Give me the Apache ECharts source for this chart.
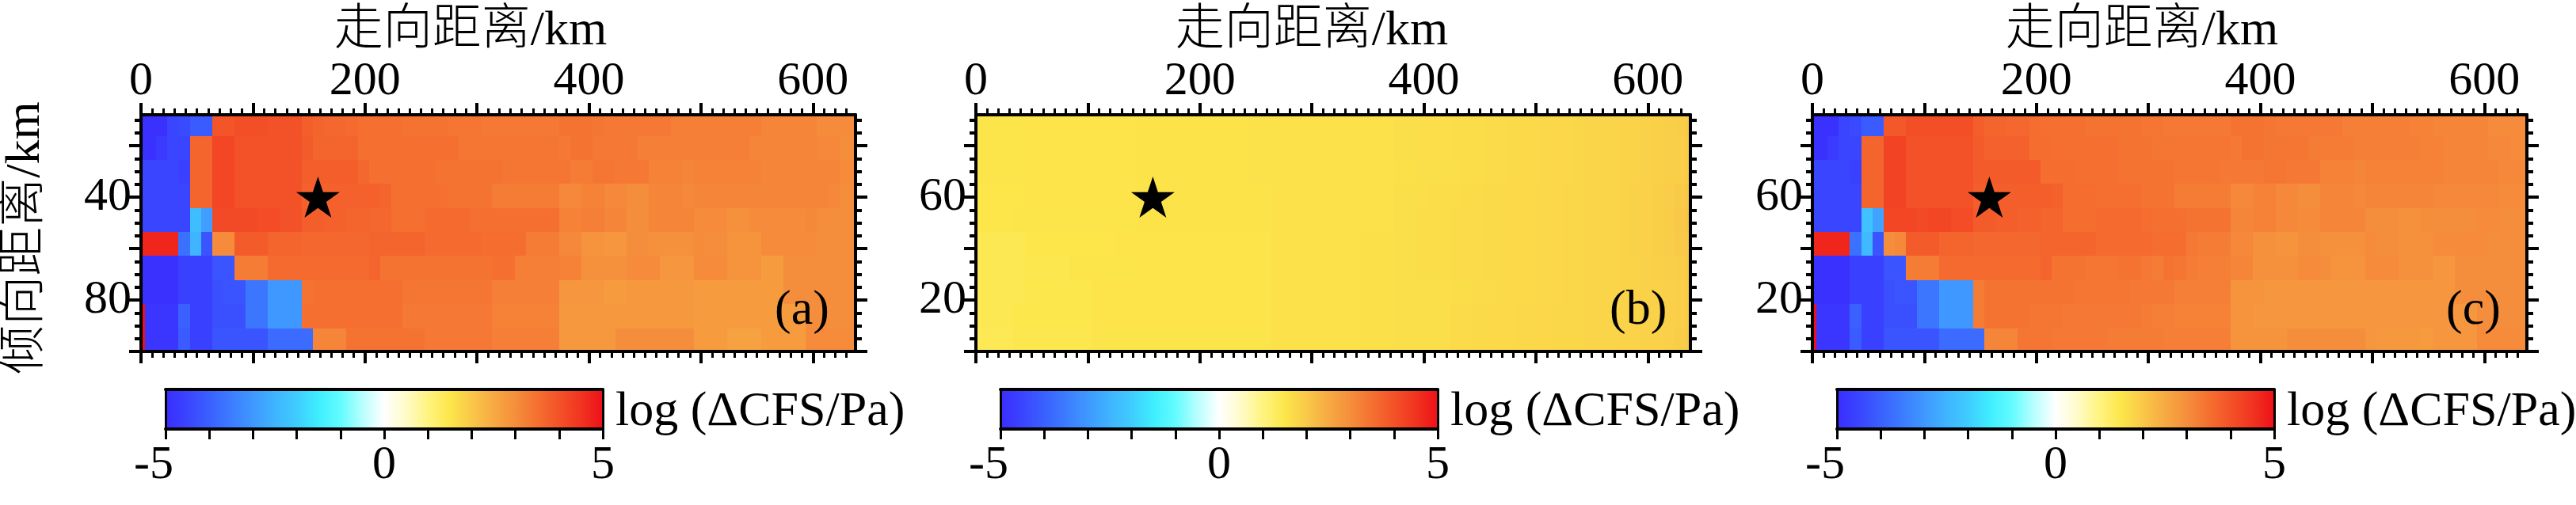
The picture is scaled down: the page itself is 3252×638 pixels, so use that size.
<!DOCTYPE html>
<html>
<head>
<meta charset="utf-8">
<style>
  html, body { margin: 0; padding: 0; background: #fff; }
  #chart { width: 3252px; height: 638px; }
</style>
<script src="https://cdn.jsdelivr.net/npm/echarts@6/dist/echarts.min.js"></script>
</head>
<body>
<div id="chart"></div>
<script>
// cell edges in km
const xEdges = [0, 3.5, 13.5, 23.5, 33.5, 43.5, 53.5, 63.5, 73.5, 83.5, 93.5, 103.5, 113.5, 123.5, 133.5, 143.5, 153.5, 163.5, 173.5, 183.5, 193.5, 203.5, 213.5, 223.5, 233.5, 243.5, 253.5, 263.5, 273.5, 283.5, 293.5, 303.5, 313.5, 323.5, 333.5, 343.5, 353.5, 363.5, 373.5, 383.5, 393.5, 403.5, 413.5, 423.5, 433.5, 443.5, 453.5, 463.5, 473.5, 483.5, 493.5, 503.5, 513.5, 523.5, 533.5, 543.5, 553.5, 563.5, 573.5, 583.5, 593.5, 603.5, 613.5, 623.5, 633.5, 638];
const yEdgesDepth = [8, 16.3, 25.5, 34.8, 44.3, 53.5, 62.8, 72.3, 81.5, 91, 100];
const yEdgesHeight = [92, 83.7, 74.5, 65.2, 55.7, 46.5, 37.2, 27.7, 18.5, 9, 0];

// log(dCFS/Pa), one row per down-dip cell, top row first
const cfsA = [
  [-4.9,-4.9,-4.9,-4.5,-4.4,-4.1,-4.1,3.95,3.95,4.05,4.05,4.05,4,4,4,3.8,3.7,3.65,3.65,3.6,3.5,3.5,3.5,3.5,3.45,3.45,3.45,3.45,3.4,3.4,3.4,3.35,3.35,3.35,3.35,3.35,3.35,3.35,3.45,3.45,3.45,3.4,3.35,3.35,3.35,3.35,3.35,3.35,3.25,3.25,3.25,3.25,3.25,3.25,3.25,3.25,3.15,3.15,3.15,3.15,3.15,3.05,3.05,3.05,3.05],
  [-4.9,-4.9,-4.7,-4.5,-4.5,3.7,3.7,4.2,4.2,4,4,4,4,4,4,3.85,3.7,3.7,3.7,3.7,3.5,3.5,3.5,3.5,3.5,3.5,3.5,3.5,3.5,3.4,3.4,3.4,3.4,3.4,3.4,3.4,3.4,3.4,3.35,3.45,3.45,3.35,3.35,3.35,3.35,3.25,3.25,3.25,3.25,3.25,3.25,3.25,3.25,3.25,3.25,3.15,3.15,3.15,3.15,3.15,3.15,3.1,3.1,3,3],
  [-4.5,-4.5,-4.5,-4.5,-4.6,3.7,3.7,4.2,4.2,4,4,4,4,4,4,3.8,3.8,3.8,3.8,3.8,3.65,3.5,3.5,3.5,3.5,3.5,3.5,3.45,3.45,3.45,3.45,3.45,3.45,3.4,3.4,3.4,3.4,3.4,3.4,3.3,3.3,3.4,3.4,3.35,3.35,3.35,3.2,3.2,3.2,3.15,3.2,3.2,3.2,3.2,3.2,3.2,3.15,3.15,3.15,3.15,3.15,3.15,3.15,3.05,3.05],
  [-4.5,-4.5,-4.5,-4.5,-4.5,3.7,3.7,4.2,4.2,4,4,4,4,4,4,3.75,3.75,3.75,3.75,3.75,3.75,3.75,3.7,3.5,3.5,3.5,3.5,3.5,3.45,3.45,3.45,3.45,3.3,3.3,3.3,3.3,3.3,3.3,3.1,3.1,3.2,3.2,3.1,3.1,3,3,3.15,3.15,3.15,3.1,3.15,3.15,3.15,3.15,3.15,3.15,3.15,3.15,3.15,3.15,3.15,3.15,3.1,3,3],
  [-4.5,-4.5,-4.5,-4.5,-4.5,-2.3,-2.9,4.15,4.15,4.15,4.15,4.1,4.1,4,4,3.8,3.8,3.75,3.75,3.7,3.7,3.65,3.65,3.5,3.5,3.5,3.6,3.6,3.6,3.6,3.5,3.5,3.5,3.5,3.5,3.5,3.5,3.5,3.2,3.2,3.25,3.25,3.15,3.15,3,3,3.15,3.15,3.15,3.15,3.05,3.05,3.05,2.95,2.95,3.05,3.05,3.05,3.05,3.05,3.1,3,3,3,3],
  [4.7,4.7,4.7,4.7,-3.7,-2.5,-4.2,3.05,3.05,3.85,3.85,3.85,3.7,3.7,3.7,3.65,3.65,3.65,3.65,3.65,3.65,3.7,3.7,3.7,3.7,3.7,3.6,3.6,3.6,3.6,3.6,3.55,3.55,3.55,3.55,3.3,3.3,3.3,3.1,3.1,2.9,2.9,2.85,2.85,3,3,2.95,2.95,2.95,2.95,3.05,3,3,2.9,2.9,2.9,3.05,3.05,3.05,3.05,3.05,3,3,3,3],
  [-4.9,-4.9,-4.9,-4.9,-4.6,-4.6,-4.6,-4.2,-4.2,3.3,3.3,3.3,3.6,3.6,3.6,3.6,3.6,3.6,3.6,3.6,3.6,3.7,3.45,3.45,3.45,3.45,3.45,3.45,3.45,3.45,3.45,3.45,3.5,3.5,3.25,3.25,3.25,3.25,3.2,3.2,2.95,2.95,2.95,2.95,3.05,3.05,3.05,2.85,2.85,2.85,3.05,3.05,3.05,2.9,2.9,2.9,2.75,2.75,3,3,3,3,3,3,3],
  [-4.9,-4.9,-4.9,-4.9,-4.6,-4.6,-4.6,-4.3,-4.2,-4.2,-3.6,-3.6,-3,-3,-3,3.45,3.5,3.5,3.5,3.5,3.5,3.5,3.5,3.5,3.4,3.4,3.4,3.4,3.4,3.4,3.4,3.4,3.25,3.25,3.25,3.25,3.25,3.25,2.85,2.85,2.85,2.85,2.75,2.75,2.8,2.8,2.8,2.8,2.8,2.8,2.75,2.75,2.75,2.75,2.75,2.75,2.75,2.75,3,3,3,3,3,3,3],
  [5,-4.8,-4.8,-4.8,-4,-4.6,-4.6,-4.3,-4.3,-4.3,-3.6,-3.6,-3,-3,-3,3.5,3.5,3.5,3.5,3.5,3.5,3.5,3.5,3.5,3.35,3.35,3.35,3.35,3.35,3.35,3.35,3.35,3.2,3.2,3.2,3.2,3.2,3.2,2.8,2.8,2.8,2.8,2.8,2.8,2.8,2.8,2.8,2.8,2.8,2.8,2.75,2.75,2.75,2.75,2.75,2.75,2.75,2.75,2.75,2.75,3,3,3,3,3],
  [5,-4.8,-4.8,-4.8,-4.1,-4.6,-4.6,-4.2,-4.2,-4.2,-4.2,-4.2,-3.8,-3.8,-3.8,-3.8,3.15,3.15,3.15,3.45,3.45,3.45,3.45,3.45,3.45,3.45,3.35,3.35,3.35,3.35,3.35,3.35,3.25,3.25,3.25,3.25,3.25,3.25,2.8,2.8,2.8,2.8,2.8,3,3,3,3,3,3,3,2.75,2.75,2.75,2.65,2.65,2.65,2.75,2.75,2.75,2.75,3.05,3.05,3.05,3.05,3.05]
];
const cfsB = [
  [1.52,1.52,1.52,1.52,1.52,1.54,1.54,1.54,1.54,1.54,1.54,1.54,1.54,1.54,1.54,1.55,1.55,1.55,1.55,1.55,1.55,1.55,1.55,1.55,1.55,1.57,1.57,1.58,1.58,1.58,1.58,1.58,1.58,1.58,1.58,1.58,1.58,1.58,1.62,1.62,1.63,1.64,1.64,1.65,1.66,1.67,1.68,1.69,1.7,1.71,1.72,1.73,1.74,1.75,1.76,1.78,1.79,1.8,1.81,1.82,1.84,1.86,1.88,1.92,1.98],
  [1.52,1.52,1.52,1.52,1.52,1.54,1.54,1.54,1.54,1.54,1.54,1.54,1.54,1.54,1.54,1.55,1.55,1.55,1.55,1.55,1.55,1.55,1.55,1.55,1.55,1.57,1.57,1.58,1.58,1.58,1.58,1.58,1.58,1.58,1.58,1.58,1.58,1.58,1.62,1.62,1.63,1.64,1.64,1.65,1.66,1.67,1.68,1.69,1.7,1.71,1.72,1.73,1.74,1.75,1.76,1.78,1.79,1.8,1.81,1.82,1.84,1.86,1.88,1.9,1.94],
  [1.52,1.52,1.52,1.52,1.52,1.54,1.54,1.54,1.54,1.54,1.54,1.54,1.54,1.54,1.54,1.55,1.55,1.55,1.55,1.55,1.55,1.55,1.55,1.55,1.55,1.57,1.57,1.58,1.58,1.58,1.58,1.58,1.58,1.58,1.58,1.58,1.58,1.58,1.6,1.6,1.61,1.62,1.62,1.64,1.66,1.67,1.68,1.69,1.7,1.71,1.72,1.73,1.74,1.75,1.76,1.78,1.79,1.8,1.81,1.82,1.84,1.86,1.88,1.9,1.94],
  [1.5,1.5,1.5,1.5,1.5,1.53,1.53,1.53,1.53,1.53,1.53,1.53,1.53,1.53,1.53,1.55,1.55,1.55,1.55,1.55,1.55,1.55,1.55,1.55,1.55,1.55,1.55,1.58,1.58,1.58,1.58,1.58,1.58,1.58,1.58,1.58,1.58,1.58,1.62,1.62,1.63,1.66,1.66,1.67,1.68,1.69,1.7,1.7,1.71,1.72,1.73,1.74,1.75,1.76,1.77,1.78,1.79,1.8,1.82,1.83,1.85,1.88,1.92,1.98,2.02],
  [1.5,1.5,1.5,1.5,1.52,1.52,1.52,1.52,1.52,1.52,1.52,1.52,1.52,1.52,1.52,1.55,1.55,1.55,1.55,1.55,1.55,1.55,1.55,1.55,1.55,1.55,1.55,1.58,1.58,1.58,1.58,1.58,1.58,1.58,1.58,1.58,1.58,1.58,1.62,1.62,1.66,1.66,1.67,1.68,1.68,1.69,1.7,1.7,1.71,1.72,1.73,1.74,1.75,1.76,1.77,1.78,1.79,1.8,1.82,1.83,1.85,1.88,1.92,2,2.05],
  [1.42,1.42,1.42,1.42,1.42,1.5,1.5,1.5,1.5,1.5,1.5,1.5,1.5,1.54,1.54,1.54,1.54,1.54,1.54,1.54,1.54,1.54,1.54,1.54,1.54,1.54,1.54,1.58,1.58,1.58,1.58,1.58,1.58,1.58,1.58,1.6,1.6,1.6,1.62,1.62,1.66,1.67,1.67,1.68,1.68,1.69,1.7,1.7,1.71,1.72,1.73,1.74,1.75,1.76,1.77,1.78,1.79,1.8,1.82,1.83,1.85,1.88,1.92,1.96,2],
  [1.42,1.42,1.42,1.42,1.42,1.46,1.46,1.46,1.46,1.52,1.52,1.52,1.52,1.52,1.52,1.54,1.54,1.54,1.54,1.54,1.54,1.54,1.54,1.54,1.54,1.54,1.54,1.58,1.58,1.58,1.58,1.58,1.58,1.58,1.58,1.6,1.6,1.6,1.62,1.62,1.66,1.67,1.67,1.68,1.68,1.69,1.7,1.7,1.71,1.72,1.73,1.74,1.75,1.76,1.77,1.78,1.79,1.8,1.81,1.82,1.84,1.86,1.88,1.92,1.96],
  [1.42,1.42,1.42,1.42,1.42,1.48,1.48,1.48,1.48,1.48,1.48,1.53,1.53,1.53,1.53,1.53,1.53,1.53,1.53,1.53,1.53,1.53,1.53,1.53,1.53,1.53,1.53,1.58,1.58,1.58,1.58,1.58,1.58,1.58,1.58,1.6,1.6,1.6,1.62,1.62,1.62,1.62,1.64,1.66,1.67,1.68,1.69,1.7,1.71,1.72,1.73,1.74,1.75,1.76,1.77,1.78,1.79,1.8,1.81,1.82,1.83,1.85,1.87,1.9,1.93],
  [1.42,1.42,1.42,1.42,1.47,1.47,1.47,1.47,1.47,1.47,1.47,1.53,1.53,1.53,1.53,1.53,1.53,1.53,1.53,1.53,1.53,1.53,1.53,1.53,1.53,1.53,1.53,1.58,1.58,1.58,1.58,1.58,1.58,1.58,1.58,1.6,1.6,1.6,1.62,1.62,1.62,1.62,1.62,1.68,1.69,1.7,1.7,1.71,1.72,1.73,1.74,1.75,1.76,1.77,1.77,1.78,1.79,1.8,1.81,1.82,1.83,1.85,1.87,1.9,1.93],
  [1.4,1.4,1.4,1.4,1.45,1.45,1.45,1.45,1.45,1.45,1.45,1.52,1.52,1.52,1.52,1.52,1.52,1.52,1.52,1.52,1.52,1.52,1.52,1.52,1.52,1.52,1.52,1.58,1.58,1.58,1.58,1.58,1.58,1.58,1.58,1.6,1.6,1.6,1.62,1.62,1.62,1.62,1.62,1.68,1.69,1.7,1.7,1.71,1.72,1.73,1.74,1.75,1.76,1.77,1.77,1.78,1.79,1.8,1.81,1.82,1.83,1.85,1.87,1.92,1.96]
];
const cfsC = [
  [-4.9,-4.9,-4.9,-4.5,-4.4,-4.1,-4.1,3.9,3.9,4.05,4.05,4.05,4.05,4.05,4.05,3.8,3.7,3.7,3.65,3.65,3.55,3.5,3.5,3.5,3.5,3.45,3.45,3.45,3.45,3.45,3.4,3.4,3.35,3.35,3.35,3.35,3.35,3.35,3.45,3.45,3.45,3.4,3.35,3.35,3.35,3.35,3.35,3.35,3.25,3.25,3.25,3.25,3.25,3.25,3.2,3.2,3.15,3.15,3.15,3.15,3.15,3.05,3.05,3.05,3.05],
  [-4.9,-4.9,-4.7,-4.5,-4.5,3.7,3.7,4.25,4.25,4,4,4,4,4,4,3.85,3.75,3.75,3.75,3.75,3.55,3.55,3.5,3.5,3.5,3.5,3.5,3.5,3.45,3.45,3.45,3.4,3.4,3.4,3.4,3.4,3.4,3.4,3.35,3.45,3.45,3.4,3.4,3.4,3.4,3.3,3.3,3.3,3.3,3.25,3.25,3.25,3.25,3.25,3.25,3.2,3.2,3.15,3.15,3.15,3.15,3.1,3.1,3.05,3.05],
  [-4.5,-4.5,-4.5,-4.5,-4.6,3.7,3.7,4.25,4.25,4,4,4,4,4,4,3.85,3.85,3.85,3.85,3.85,3.85,3.55,3.55,3.55,3.5,3.5,3.5,3.5,3.45,3.45,3.45,3.45,3.45,3.4,3.4,3.4,3.4,3.35,3.35,3.35,3.35,3.4,3.4,3.35,3.35,3.35,3.2,3.2,3.2,3.15,3.2,3.2,3.2,3.2,3.2,3.2,3.2,3.15,3.15,3.15,3.15,3.15,3.1,3.1,3.1],
  [-4.5,-4.5,-4.5,-4.5,-4.5,3.7,3.7,4.25,4.25,4,4,4,4,4,4,3.8,3.8,3.8,3.8,3.8,3.8,3.8,3.75,3.55,3.55,3.55,3.5,3.5,3.5,3.5,3.45,3.45,3.45,3.3,3.3,3.3,3.3,3.3,3.1,3.1,3.2,3.2,3.1,3.1,3,3,3.15,3.15,3.15,3.1,3.15,3.15,3.15,3.15,3.15,3.15,3.1,3.1,3.1,3.1,3.1,3.1,3.05,3.05,3.05],
  [-4.5,-4.5,-4.5,-4.5,-4.5,-2.2,-2.8,4.2,4.2,4.2,4.15,4.2,4.2,4.1,4.1,3.85,3.85,3.8,3.8,3.75,3.75,3.7,3.7,3.55,3.55,3.55,3.6,3.6,3.6,3.6,3.55,3.5,3.5,3.5,3.45,3.45,3.45,3.45,3.15,3.15,3.2,3.2,3.1,3.1,3.05,3.05,3.15,3.15,3.15,3.15,3,3,3,2.95,2.95,3,3,3,3,3,3.05,3.05,3,3,3],
  [4.7,4.7,4.7,4.7,-3.7,-2.4,-4.2,3,3.1,3.85,3.85,3.85,3.7,3.7,3.7,3.65,3.65,3.65,3.65,3.65,3.65,3.7,3.7,3.7,3.7,3.7,3.6,3.6,3.6,3.6,3.6,3.55,3.55,3.55,3.35,3.3,3.3,3.3,3.1,3.1,2.95,2.95,2.9,2.9,3,3,2.95,2.95,2.95,2.95,3.05,3,3,2.95,2.95,2.95,3.05,3.05,3.05,3.05,3.05,3,3,3,3],
  [-4.9,-4.9,-4.9,-4.9,-4.6,-4.6,-4.6,-4.2,-4.2,3.3,3.3,3.3,3.6,3.6,3.6,3.6,3.6,3.6,3.6,3.6,3.6,3.7,3.45,3.45,3.45,3.4,3.4,3.4,3.45,3.45,3.35,3.3,3.45,3.4,3.3,3.25,3.25,3.25,3.15,3.15,2.95,2.95,2.95,2.95,3.05,3.05,3,2.9,2.9,2.9,3.05,3.05,3.05,2.95,2.95,2.95,2.85,2.85,3,3,3,3,3,3,3],
  [-4.9,-4.9,-4.9,-4.9,-4.6,-4.6,-4.6,-4.3,-4.2,-4.2,-3.6,-3.6,-3,-3,-3,3.3,3.45,3.45,3.45,3.45,3.45,3.45,3.45,3.45,3.4,3.4,3.4,3.4,3.4,3.35,3.35,3.35,3.35,3.25,3.25,3.25,3.25,3.25,2.9,2.9,2.9,2.85,2.85,2.85,2.85,2.85,2.85,2.85,2.85,2.85,2.85,2.85,2.85,2.85,2.85,2.85,2.85,2.85,3,3,3,3,3,3,3],
  [5,-4.8,-4.8,-4.8,-4,-4.6,-4.6,-4.3,-4.3,-4.3,-3.6,-3.6,-3,-3,-3,3.3,3.45,3.45,3.45,3.45,3.4,3.4,3.4,3.35,3.35,3.35,3.35,3.35,3.35,3.35,3.3,3.25,3.25,3.2,3.2,3.2,3.2,3.2,2.9,2.9,2.85,2.85,2.85,2.85,2.85,2.85,2.85,2.85,2.85,2.85,2.85,2.85,2.85,2.85,2.85,2.85,2.85,2.85,2.85,2.85,3,3,3,3,3],
  [5,-4.8,-4.8,-4.8,-4.1,-4.6,-4.6,-4.2,-4.2,-4.2,-4.2,-4.2,-3.8,-3.8,-3.8,-3.8,3.15,3.15,3.15,3.4,3.4,3.4,3.35,3.35,3.35,3.35,3.35,3.3,3.3,3.3,3.3,3.3,3.25,3.25,3.25,3.25,3.25,3.25,2.9,2.9,2.9,2.9,2.9,3,3,3,3,3,3,3,2.85,2.8,2.8,2.8,2.8,2.75,2.85,2.85,2.85,2.85,3.05,3.05,3.05,3.05,3.05]
];

const panelNames = ['(a)', '(b)', '(c)'];
const xMajorTicks = [0, 100, 200, 300, 400, 500, 600];
const xMinorTicks = [10, 20, 30, 40, 50, 60, 70, 80, 90, 110, 120, 130, 140, 150, 160, 170, 180, 190, 210, 220, 230, 240, 250, 260, 270, 280, 290, 310, 320, 330, 340, 350, 360, 370, 380, 390, 410, 420, 430, 440, 450, 460, 470, 480, 490, 510, 520, 530, 540, 550, 560, 570, 580, 590, 610, 620, 630];
const xLabels = [0, 200, 400, 600];
const yMajorDepth = [20, 40, 60, 80, 100];
const yMinorDepth = [10, 15, 25, 30, 35, 45, 50, 55, 65, 70, 75, 85, 90, 95];
const yLabelsDepth = [40, 80];
const yMajorHeight = [0, 20, 40, 60, 80];
const yMinorHeight = [5, 10, 15, 25, 30, 35, 45, 50, 55, 65, 70, 75, 85, 90];
const yLabelsHeight = [20, 60];
const barLabels = [-5, 0, 5];
const starKm = 158;
const starY = [40, 60, 60];
// colormap, -5 to 5 in steps of 0.5
const cfsColors = ['#3a2cff', '#3a45ff', '#3a60ff', '#3c7cff', '#3f98ff', '#3fb4ff', '#3fccff', '#3feeff', '#62fcff', '#b8fefe', '#ffffff', '#fffbc8', '#fff480', '#fce64a', '#f9c848', '#f7aa42', '#f58e3c', '#f57030', '#f35228', '#f13420', '#ee1018'];

const FONT = '"Liberation Serif", "Noto Sans CJK SC"';
const panelLeft = [178, 1232, 2288];
const panelWidth = 902;
const titleShift = [70, 54, 70];
const starPath = 'path://M50 0 L61.8 36 L100 36 L69 58.5 L80.9 95 L50 72.5 L19.1 95 L31 58.5 L0 36 L38.2 36 Z';

function cellsOf (values, yEdges) {
  const out = [];
  values.forEach((row, r) => {
    row.forEach((v, c) => {
      out.push([xEdges[c], xEdges[c + 1], yEdges[r], yEdges[r + 1], v]);
    });
  });
  return out;
}

function renderCell (params, api) {
  const a = api.coord([api.value(0), api.value(2)]);
  const b = api.coord([api.value(1), api.value(3)]);
  const x0 = Math.round(Math.min(a[0], b[0]));
  const x1 = Math.round(Math.max(a[0], b[0]));
  const y0 = Math.round(Math.min(a[1], b[1]));
  const y1 = Math.round(Math.max(a[1], b[1]));
  return {
    type: 'rect',
    shape: { x: x0, y: y0, width: x1 - x0, height: y1 - y0 },
    style: { fill: api.visual('color') }
  };
}

const grid = [], xAxis = [], yAxis = [], series = [], visualMap = [], graphic = [];

function tickAxis (common, ticks, len, width, labels, showLine) {
  return Object.assign({
    type: 'value',
    z: 6,
    splitLine: { show: false },
    axisLine: { show: showLine, onZero: false, lineStyle: { color: '#000', width: 4 } },
    axisTick: { show: true, customValues: ticks, length: len, lineStyle: { color: '#000', width: width } },
    axisLabel: labels
      ? { show: true, customValues: labels, color: '#000', fontFamily: FONT, fontSize: 60, margin: 12 }
      : { show: false }
  }, common);
}

[cfsA, cfsB, cfsC].forEach((values, i) => {
  const g = grid.length;
  const isA = i === 0;
  const yEdges = isA ? yEdgesDepth : yEdgesHeight;
  const yMajor = isA ? yMajorDepth : yMajorHeight;
  const yMinor = isA ? yMinorDepth : yMinorHeight;
  const yLabels = isA ? yLabelsDepth : yLabelsHeight;
  const yRange = isA ? { min: 8, max: 100, inverse: true } : { min: 0, max: 92 };

  grid.push({ left: panelLeft[i], top: 145, width: panelWidth, height: 299 });

  const xBase = { gridIndex: g, min: 0, max: 638 };
  const xTop = xAxis.length;
  xAxis.push(
    tickAxis(Object.assign({
      position: 'top',
      name: '走向距离/km',
      nameLocation: 'middle',
      nameGap: 74,
      nameTextStyle: { color: '#000', fontFamily: FONT, fontSize: 62, fontWeight: 300, padding: [0, titleShift[i], 0, 0] }
    }, xBase), xMajorTicks, 15, 4, xLabels, true),
    tickAxis(Object.assign({ position: 'top' }, xBase), xMinorTicks, 8, 3, null, false),
    tickAxis(Object.assign({ position: 'bottom' }, xBase), xMajorTicks, 15, 4, null, true),
    tickAxis(Object.assign({ position: 'bottom' }, xBase), xMinorTicks, 8, 3, null, false)
  );

  const yBase = Object.assign({ gridIndex: g }, yRange);
  const yLeft = yAxis.length;
  const leftMain = { position: 'left' };
  if (isA) {
    leftMain.name = '倾向距离/km';
    leftMain.nameLocation = 'middle';
    leftMain.nameGap = 114;
    leftMain.nameTextStyle = { color: '#000', fontFamily: FONT, fontSize: 62, fontWeight: 300, padding: [0, 12, 0, 0] };
  }
  yAxis.push(
    tickAxis(Object.assign(leftMain, yBase), yMajor, 15, 4, yLabels, true),
    tickAxis(Object.assign({ position: 'left' }, yBase), yMinor, 8, 4, null, false),
    tickAxis(Object.assign({ position: 'right' }, yBase), yMajor, 15, 4, null, true),
    tickAxis(Object.assign({ position: 'right' }, yBase), yMinor, 8, 4, null, false)
  );

  const heatIndex = series.length;
  series.push({
    type: 'custom',
    xAxisIndex: xTop,
    yAxisIndex: yLeft,
    renderItem: renderCell,
    encode: { x: [0, 1], y: [2, 3] },
    data: cellsOf(values, yEdges),
    silent: true,
    animation: false
  });
  series.push({
    type: 'scatter',
    xAxisIndex: xTop,
    yAxisIndex: yLeft,
    symbol: starPath,
    symbolSize: [55, 52],
    itemStyle: { color: '#000', opacity: 1 },
    data: [[starKm, starY[i]]],
    z: 10,
    silent: true,
    animation: false
  });

  // colour bar: gradient from visualMap, frame and ticks from its own axes
  const barLeft = panelLeft[i] + 31;
  visualMap.push({
    type: 'continuous',
    seriesIndex: heatIndex,
    dimension: 4,
    min: -5,
    max: 5,
    orient: 'horizontal',
    left: barLeft,
    top: 492,
    itemWidth: 50,
    itemHeight: 552,
    padding: 0,
    text: null,
    calculable: false,
    hoverLink: false,
    showLabel: false,
    inRange: { color: cfsColors }
  });

  const b = grid.length;
  grid.push({ left: barLeft, top: 492, width: 552, height: 50 });
  xAxis.push({
    type: 'value',
    gridIndex: b,
    position: 'bottom',
    min: -5,
    max: 5,
    interval: 1,
    z: 6,
    splitLine: { show: false },
    axisLine: { show: true, onZero: false, lineStyle: { color: '#000', width: 4 } },
    axisTick: { show: true, length: 13, lineStyle: { color: '#000', width: 3 } },
    axisLabel: {
      show: true,
      customValues: barLabels,
      color: '#000',
      fontFamily: FONT,
      fontSize: 60,
      margin: 16,
      formatter: v => (v < 0 ? v + '\u00a0\u00a0' : '' + v)
    }
  }, {
    type: 'value',
    gridIndex: b,
    position: 'top',
    min: -5,
    max: 5,
    z: 6,
    splitLine: { show: false },
    axisLine: { show: true, onZero: false, lineStyle: { color: '#000', width: 4 } },
    axisTick: { show: false },
    axisLabel: { show: false }
  });
  ['left', 'right'].forEach(pos => {
    yAxis.push({
      type: 'value',
      gridIndex: b,
      position: pos,
      min: 0,
      max: 1,
      z: 6,
      splitLine: { show: false },
      axisLine: { show: true, onZero: false, lineStyle: { color: '#000', width: 3 } },
      axisTick: { show: false },
      axisLabel: { show: false }
    });
  });

  graphic.push({
    type: 'text',
    left: barLeft + 568,
    top: 490,
    silent: true,
    style: { text: 'log (ΔCFS/Pa)', fill: '#000', font: '62px ' + FONT }
  }, {
    type: 'text',
    left: panelLeft[i] + 800,
    top: 362,
    silent: true,
    z: 20,
    style: { text: panelNames[i], fill: '#000', font: '62px ' + FONT }
  });
});

const myChart = echarts.init(document.getElementById('chart'));
myChart.setOption({
  backgroundColor: '#fff',
  animation: false,
  grid,
  xAxis,
  yAxis,
  visualMap,
  series,
  graphic
});
</script>
</body>
</html>
